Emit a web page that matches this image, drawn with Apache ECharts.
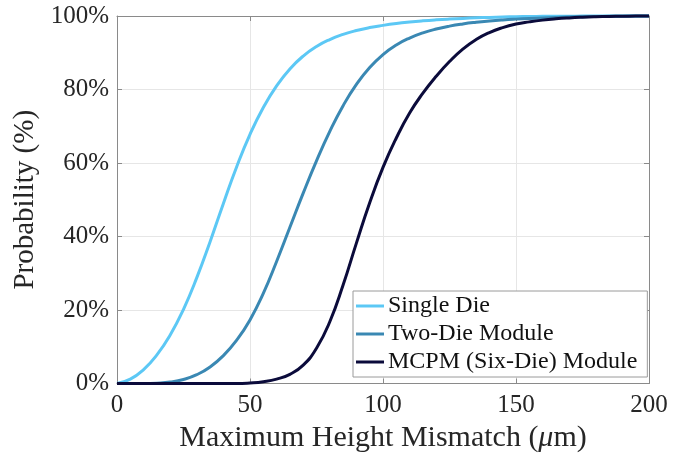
<!DOCTYPE html>
<html>
<head>
<meta charset="utf-8">
<script src="https://cdn.jsdelivr.net/npm/echarts@6/dist/echarts.min.js"></script>
<style>
  html, body { margin: 0; padding: 0; background: #fff; }
  #chart { width: 686px; height: 457px; }
</style>
</head>
<body>
<div id="chart"></div>
<script>
// Maximum height mismatch (µm), sampled every 5 µm
const mismatch = [0,5,10,15,20,25,30,35,40,45,50,55,60,65,70,75,80,85,90,95,100,
  105,110,115,120,125,130,135,140,145,150,155,160,165,170,175,180,185,190,195,200];

// Cumulative probability (%) for each configuration
const singleDie = [0,1.2,3.8,7.8,13.2,20.2,28.8,38.6,49,59,67.8,75.1,81,85.6,89.1,91.7,93.6,95,96.05,96.85,97.45,
  97.95,98.35,98.68,98.95,99.17,99.35,99.5,99.62,99.72,99.8,99.86,99.9,99.93,99.95,99.97,99.98,99.99,99.99,100,100];
const twoDie = [0,0,0,0.1,0.4,1.1,2.4,4.5,7.6,11.8,17.3,24.5,33.2,42.5,51.8,60.6,68.6,75.6,81.4,86,89.5,
  92.1,94,95.4,96.45,97.25,97.85,98.3,98.65,98.93,99.15,99.33,99.48,99.61,99.72,99.8,99.87,99.92,99.96,99.98,100];
const sixDie = [0,0,0,0,0,0,0,0,0,0,0.15,0.5,1.2,2.5,5,9.6,16.8,26.8,38.2,49.2,58.8,
  66.8,73.6,79,83.6,87.6,91,93.6,95.5,96.85,97.8,98.4,98.88,99.23,99.48,99.66,99.79,99.88,99.94,99.98,100];

const seriesNames = ['Single Die', 'Two-Die Module', 'MCPM (Six-Die) Module'];
const seriesColors = ['#5cc8f5', '#3a88b3', '#0b0b3b'];
const xTicks = { min: 0, max: 200, interval: 50 };
const yTicks = { min: 0, max: 100, interval: 20 };

const FONT = '"Liberation Serif", "Times New Roman", serif';
const AXIS_GRAY = '#8a8a8a';
const TEXT = '#262626';

function pairs(ys) { return mismatch.map((x, i) => [x, ys[i]]); }

const chart = echarts.init(document.getElementById('chart'), null, { renderer: 'canvas' });

const baseAxis = {
  type: 'value',
  axisLine: { show: true, onZero: false, lineStyle: { color: AXIS_GRAY, width: 1 } },
  axisTick: { show: true, inside: true, length: 5, lineStyle: { color: AXIS_GRAY } },
  splitLine: { show: false },
};

chart.setOption({
  animation: false,
  backgroundColor: '#fff',
  grid: { left: 117, right: 37, top: 16, bottom: 73.5, containLabel: false, outerBoundsMode: 'none' },
  xAxis: [
    Object.assign({}, baseAxis, xTicks, {
      position: 'bottom',
      name: '{t|Maximum Height Mismatch (}{i|μ}{t|m)}',
      nameLocation: 'middle',
      nameGap: 40,
      nameTextStyle: {
        rich: {
          t: { fontFamily: FONT, fontSize: 30, color: TEXT },
          i: { fontFamily: FONT, fontSize: 30, color: TEXT, fontStyle: 'italic' }
        }
      },
      axisLabel: { fontFamily: FONT, fontSize: 25, color: TEXT, margin: 9 },
      splitLine: { show: true, lineStyle: { color: '#e6e6e6', width: 1 } }
    }),
    Object.assign({}, baseAxis, xTicks, {
      position: 'top',
      axisLabel: { show: false }
    })
  ],
  yAxis: [
    Object.assign({}, baseAxis, yTicks, {
      position: 'left',
      name: 'Probability (%)',
      nameLocation: 'middle',
      nameGap: 73,
      nameTextStyle: { fontFamily: FONT, fontSize: 29, color: TEXT },
      axisLabel: { fontFamily: FONT, fontSize: 25, color: TEXT, margin: 8, formatter: '{value}%' },
      splitLine: { show: true, lineStyle: { color: '#e6e6e6', width: 1 } }
    }),
    Object.assign({}, baseAxis, yTicks, {
      position: 'right',
      axisLabel: { show: false }
    })
  ],
  legend: {
    orient: 'vertical',
    left: 353,
    top: 291,
    padding: [3, 10, 3, 3],
    itemGap: 4,
    itemWidth: 28,
    itemHeight: 3,
    icon: 'rect',
    backgroundColor: '#fff',
    borderColor: '#9a9a9a',
    borderWidth: 1,
    borderRadius: 0,
    textStyle: { fontFamily: FONT, fontSize: 24, color: '#111', lineHeight: 24, padding: [0, 0, 0, -1] },
    data: seriesNames
  },
  series: [singleDie, twoDie, sixDie].map((ys, i) => ({
    name: seriesNames[i],
    type: 'line',
    data: pairs(ys),
    showSymbol: false,
    smooth: 0.5,
    clip: false,
    color: seriesColors[i],
    lineStyle: { color: seriesColors[i], width: 3 },
    z: 2 + i
  }))
});
</script>
</body>
</html>
